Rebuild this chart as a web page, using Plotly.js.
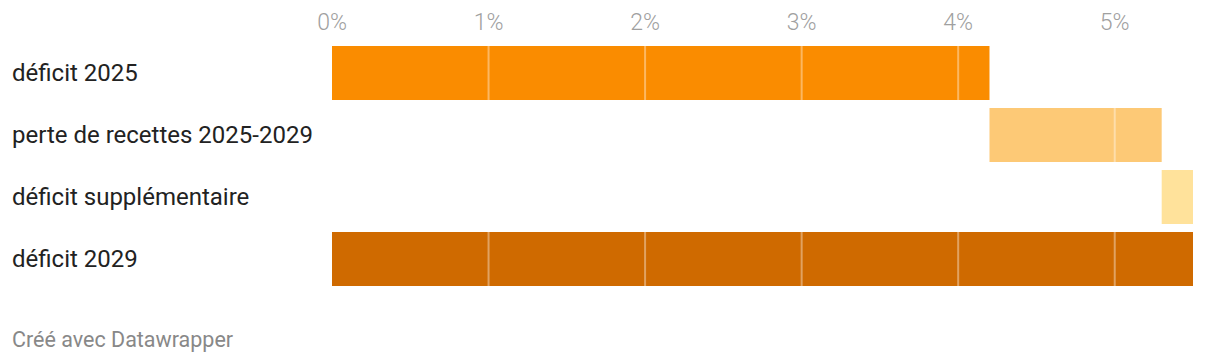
<!DOCTYPE html>
<html><head><meta charset="utf-8">
<script src="https://cdn.plot.ly/plotly-3.0.1.min.js"></script>
<style>html,body{margin:0;padding:0;background:#fff}#chart{width:1220px;height:362px}</style>
</head><body><div id="chart"></div>
<script>
const categories = ["déficit 2025", "perte de recettes 2025-2029", "déficit supplémentaire", "déficit 2029"];
const barStart = [0, 4.2, 5.3, 0];
const barLength = [4.2, 1.1, 0.2, 5.5];
const barColors = ["#fa8c00", "#fdc976", "#ffe29b", "#cf6a00"];
const tickValues = [0, 1, 2, 3, 4, 5];
const tickLabels = ["0%", "1%", "2%", "3%", "4%", "5%"];
const footer = "Créé avec Datawrapper";

const trace = {
  type: "bar", orientation: "h",
  y: categories, x: barLength, base: barStart,
  marker: {color: barColors, line: {width: 0}},
  hoverinfo: "none"
};
const shapes = tickValues.filter(v => v > 0).map(v => ({
  type: "line", xref: "x", yref: "paper", x0: v, x1: v, y0: 0, y1: 1,
  line: {color: "rgba(255,255,255,0.38)", width: 2}, layer: "above"
}));
const annotations = categories.map(c => ({
  text: c, xref: "paper", yref: "y", x: -0.3741, y: c, xanchor: "left", yanchor: "middle",
  showarrow: false, font: {family: "Roboto", size: 24, color: "#222"}
}));
annotations.push({text: footer, xref: "paper", yref: "paper", x: -0.3741, y: -0.2, xanchor: "left", yanchor: "middle",
  showarrow: false, font: {family: "Roboto", size: 21.5, color: "#888"}});

const layout = {
  width: 1220, height: 362,
  margin: {l: 332, r: 27, t: 42, b: 72},
  paper_bgcolor: "#fff", plot_bgcolor: "#fff",
  bargap: 0.13, showlegend: false,
  xaxis: {range: [0, 5.5], side: "top", tickvals: tickValues, ticktext: tickLabels,
    showgrid: false, zeroline: false, showline: false, ticks: "", ticklabelstandoff: 6,
    tickfont: {family: "Roboto", size: 23, weight: 300, color: "#a0a0a0"}, fixedrange: true},
  yaxis: {autorange: "reversed", showticklabels: false, showgrid: false, zeroline: false, fixedrange: true},
  shapes: shapes, annotations: annotations
};
Plotly.newPlot("chart", [trace], layout, {staticPlot: true, displayModeBar: false});
</script></body></html>
